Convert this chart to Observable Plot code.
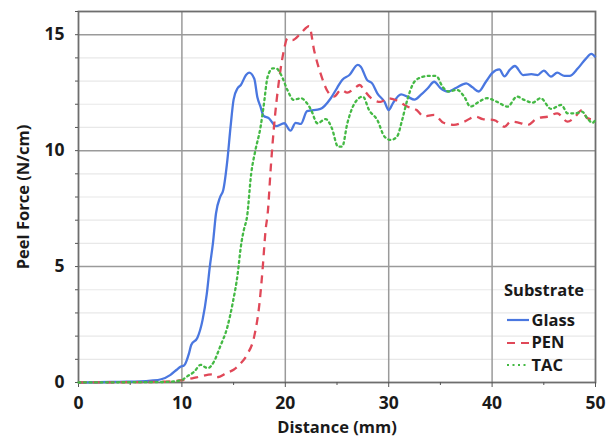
<!DOCTYPE html>
<html>
<head>
<meta charset="utf-8">
<script src="https://cdn.jsdelivr.net/npm/d3@7"></script>
<script src="https://cdn.jsdelivr.net/npm/@observablehq/plot@0.6"></script>
<style>
  body { margin: 0; background: #fff; }
  #wrap { position: relative; width: 614px; height: 436px; font-family: "Open Sans", sans-serif; }
  #legend { position: absolute; left: 504px; top: 280px; font-weight: 700; color: #1a1a1a; font-size: 16.5px; }
  #legend .title { height: 20px; line-height: 20px; margin-bottom: 8.75px; }
  #legend .row { display: flex; align-items: center; height: 22.5px; line-height: 22.5px; margin-left: 2.5px; }
  #legend svg { margin-right: 3px; }
</style>
</head>
<body>
<div id="wrap"><div id="legend"></div></div>
<script>
const seriesNames = ["Glass", "PEN", "TAC"];
const seriesColors = ["#4a77e0", "#e04858", "#44b944"];
const seriesDash = ["none", "8,6", "2,3.5"];

const glassX = [0,2,4,6,7,8,8.9,9.5,9.9,10.2,10.7,10.9,11.5,12.0,12.4,12.7,13.0,13.3,13.7,14.0,14.4,14.7,15.0,15.4,15.7,16.2,16.5,17.0,17.3,17.6,17.9,18.4,19.1,19.9,20.5,21.0,21.5,22.1,23.4,24.4,25.0,25.5,26.2,27.0,27.3,27.9,28.4,28.9,29.6,30.0,30.4,31.2,31.8,32.5,33.1,33.8,34.4,35.0,35.7,36.5,37.5,38.1,38.7,39.4,40.0,40.7,41.2,41.7,42.2,43.0,43.8,44.4,45.0,45.7,46.3,47.0,47.5,48.3,49.1,49.6,50];
const glassY = [0,0.01,0.03,0.05,0.08,0.14,0.33,0.55,0.69,0.73,1.28,1.62,1.93,2.7,3.8,5.0,6.0,7.3,8.0,8.3,9.6,11.0,12.2,12.7,12.83,13.26,13.36,13.1,12.3,11.9,11.5,11.4,11.06,11.18,10.86,11.2,11.15,11.7,11.8,12.26,12.7,13.05,13.26,13.7,13.62,13.05,12.9,12.47,12.1,11.75,12.04,12.43,12.33,12.2,12.4,12.7,12.97,12.7,12.55,12.7,12.9,12.73,12.55,12.97,13.34,13.5,13.2,13.48,13.65,13.26,13.3,13.26,13.45,13.19,13.36,13.22,13.22,13.55,13.98,14.17,14.03];

const penX = [0,4,8,9,10,11,11.8,12.9,13.4,14.4,15.0,15.7,16.3,17.0,17.5,17.8,18.1,18.3,18.6,18.9,19.4,19.9,20.2,20.7,21.5,22.3,22.8,23.4,24.1,24.7,25.4,26.0,26.7,27.2,27.6,28.3,29.2,29.9,30.8,31.8,32.7,33.4,34.4,35.3,36.3,37.3,38.4,39.1,40.2,41.2,41.8,42.8,43.4,44.4,45.4,46.3,47.3,47.9,48.7,49.2,50];
const penY = [0,0.01,0.03,0.05,0.1,0.18,0.26,0.35,0.23,0.43,0.55,0.83,1.2,2.0,3.4,4.86,6.6,7.3,9.3,11.0,13.05,14.4,14.84,14.77,15.06,15.37,14.3,13.34,12.55,12.33,12.62,12.5,12.7,12.83,12.62,12.26,12.1,12.26,12.16,11.9,11.75,11.47,11.54,11.2,11.11,11.25,11.47,11.36,11.32,11.03,11.25,11.18,11.1,11.4,11.47,11.61,11.25,11.4,11.75,11.4,11.32];

const tacX = [0,4,8,9,9.9,10.5,11.2,11.8,12.5,13.1,13.7,14.4,14.9,15.4,15.7,16.0,16.3,16.7,17.1,17.6,17.9,18.3,18.8,19.1,19.6,20.2,20.8,21.5,22.0,22.5,23.1,23.9,24.5,25.1,25.5,26.0,26.7,27.5,28.1,28.9,29.6,30.2,30.8,31.3,31.8,32.3,32.9,33.8,34.6,35.2,35.8,36.6,37.3,37.9,38.7,39.5,40.5,41.5,42.4,43.1,43.9,44.7,45.7,46.7,47.3,48.1,48.7,49.2,49.7,50];
const tacY = [0,0.01,0.02,0.04,0.09,0.26,0.47,0.76,0.62,0.9,1.55,2.4,3.4,4.7,5.86,6.6,7.15,9.0,10.0,11.0,11.9,13.2,13.55,13.55,13.26,12.62,12.19,12.26,12.1,11.75,11.18,11.36,10.97,10.17,10.17,11.18,12.04,12.33,11.75,11.32,10.6,10.46,10.6,11.32,12.19,12.83,13.12,13.22,13.22,12.76,12.55,12.62,12.33,11.9,12.1,12.26,12.1,11.9,12.33,12.19,12.07,12.26,11.8,11.97,11.61,11.61,11.68,11.4,11.2,11.32];

const xTicks = [0,10,20,30,40,50];
const xMinorTicks = [5,15,25,35,45];
const yTicks = [0,5,10,15];
const xLabel = "Distance (mm)";
const yLabel = "Peel Force (N/cm)";
const legendTitle = "Substrate";

const xs = [glassX, penX, tacX];
const ys = [glassY, penY, tacY];
const data = seriesNames.flatMap((s, i) => xs[i].map((x, j) => ({series: s, x, y: ys[i][j]})));

const font = {fontFamily: "Open Sans, sans-serif", fontWeight: 700};

const chart = Plot.plot({
  width: 614,
  height: 436,
  marginLeft: 78,
  marginRight: 19,
  marginTop: 11,
  marginBottom: 54,
  style: {fontFamily: "Open Sans, sans-serif", background: "transparent", color: "#1a1a1a"},
  x: {domain: [0, 50]},
  y: {domain: [0, 16]},
  marks: [
    Plot.gridY(d3.range(1, 16).filter(d => d % 5 !== 0), {stroke: "#e8e8e8", strokeOpacity: 1, strokeWidth: 1.2}),
    Plot.gridY([5, 10, 15], {stroke: "#9a9a9a", strokeOpacity: 1, strokeWidth: 1.5}),
    Plot.gridX([10, 20, 30, 40], {stroke: "#9a9a9a", strokeOpacity: 1, strokeWidth: 1.5}),
    Plot.frame({stroke: "#6e6e6e", strokeWidth: 1.8}),
    Plot.axisX(xTicks, {tickSize: 5, tickPadding: 9, stroke: "#555", fontSize: 17.5, ...font, fill: "#1a1a1a",
      label: null}),
    Plot.axisX({ticks: [], label: xLabel, labelAnchor: "center", labelArrow: "none", labelOffset: 50,
      fontSize: 16.5, ...font, fill: "#1a1a1a", tickSize: 0}),
    Plot.axisX(xMinorTicks, {tickSize: 3, stroke: "#555", tickFormat: () => "", label: null}),
    Plot.axisY(d3.range(0, 17), {tickSize: 3, tickPadding: 11, stroke: "#555", fontSize: 17.5, ...font, fill: "#1a1a1a",
      tickFormat: d => (yTicks.includes(d) ? d : ""), label: null}),
    Plot.axisY({ticks: [], label: yLabel, labelAnchor: "center", labelArrow: "none", labelOffset: 61,
      fontSize: 16.5, ...font, fill: "#1a1a1a", tickSize: 0}),
    ...seriesNames.map((s, i) => Plot.line(data.filter(d => d.series === s), {
      x: "x", y: "y", stroke: seriesColors[i], strokeWidth: 2.3,
      strokeDasharray: seriesDash[i] === "none" ? null : seriesDash[i],
      strokeLinecap: seriesDash[i] === "2,3.5" ? "round" : "butt",
      curve: "monotone-x"
    }))
  ]
});

const wrap = document.getElementById("wrap");
wrap.insertBefore(chart, wrap.firstChild);

const legend = document.getElementById("legend");
const t = document.createElement("div");
t.className = "title";
t.textContent = legendTitle;
legend.appendChild(t);
seriesNames.forEach((s, i) => {
  const row = document.createElement("div");
  row.className = "row";
  const dash = seriesDash[i] === "none" ? "" : `stroke-dasharray="${seriesDash[i]}"`;
  row.innerHTML = `<svg width="22" height="10"><line x1="0" x2="22" y1="5" y2="5" stroke="${seriesColors[i]}" stroke-width="2.2" ${dash}/></svg><span>${s}</span>`;
  legend.appendChild(row);
});
</script>
</body>
</html>
